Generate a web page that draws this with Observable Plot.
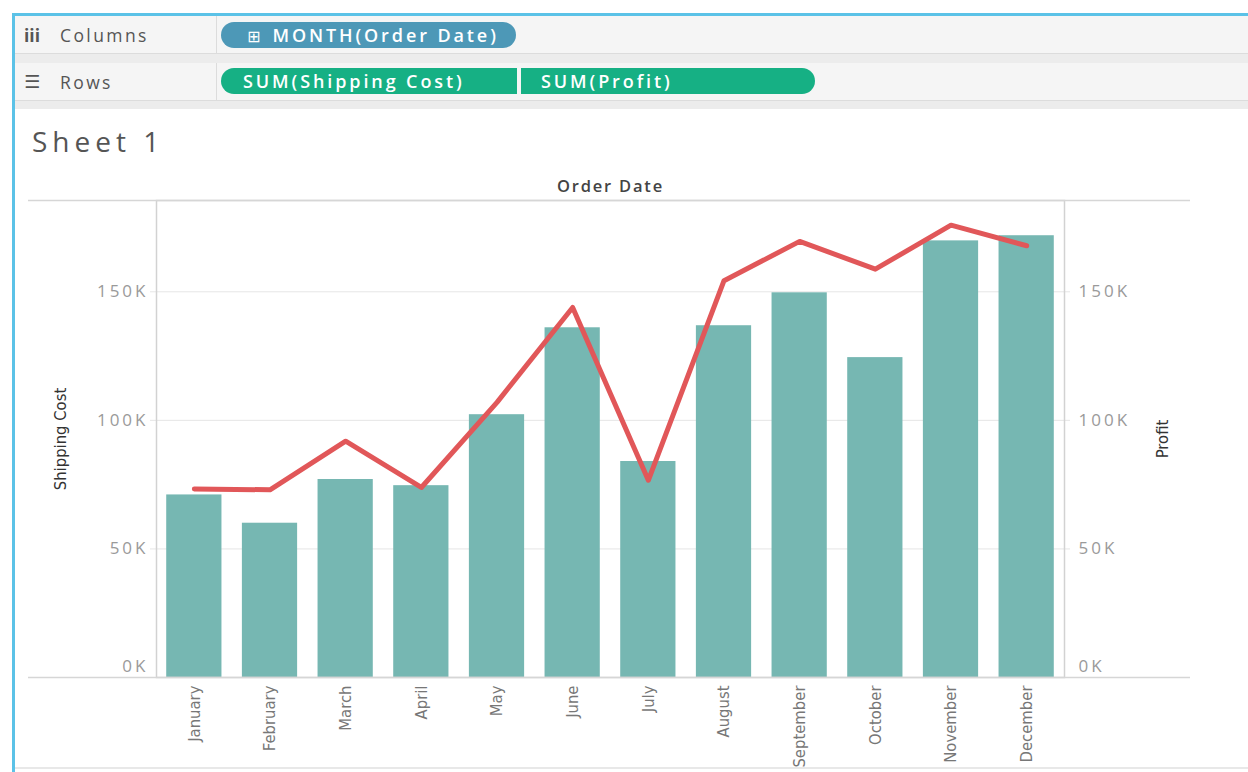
<!DOCTYPE html>
<html>
<head>
<meta charset="utf-8">
<script src="https://cdn.jsdelivr.net/npm/d3@7"></script>
<script src="https://cdn.jsdelivr.net/npm/@observablehq/plot@0.6"></script>
<style>
  html, body { margin:0; padding:0; background:#fff; }
  #page { position:relative; width:1248px; height:772px; overflow:hidden; background:#fff; font-family:"Open Sans", sans-serif; }
  .bluetop { position:absolute; left:12px; top:13px; width:1236px; height:3px; background:#5bc2e7; }
  .blueleft { position:absolute; left:12px; top:13px; width:3px; height:759px; background:#5bc2e7; }
  .shelf { position:absolute; left:15px; width:1233px; background:#f5f5f5; border-bottom:1px solid #dcdcdc; }
  .gap { position:absolute; left:15px; width:1233px; background:#ececec; }
  .shelflabel { position:absolute; left:0; top:0; width:201px; height:100%; border-right:1px solid #dcdcdc; color:#555; font-size:17.5px; letter-spacing:2.4px; display:flex; align-items:center; }
  .shelflabel .ic { display:inline-block; width:36px; padding-left:9px; font-weight:700; color:#555; letter-spacing:0; }
  .pill { position:absolute; height:26px; color:#fff; font-size:18px; font-weight:600; display:flex; align-items:center; letter-spacing:2.9px; white-space:nowrap; }
  #title { position:absolute; left:32px; top:122px; font-size:28px; color:#555; letter-spacing:5px; font-weight:400; }
  #chart { position:absolute; left:0; top:170px; }
  #chart g[aria-label="y-axis tick label"] text { letter-spacing:3px; }
  .bottomline { position:absolute; left:15px; top:767px; width:1233px; height:2px; background:#e8e8e8; }
</style>
</head>
<body>
<div id="page">
  <div class="shelf" style="top:16px;height:37px;">
    <div class="shelflabel"><span class="ic">iii</span>Columns</div>
  </div>
  <div class="gap" style="top:54px;height:9px;"></div>
  <div class="shelf" style="top:63px;height:37px;">
    <div class="shelflabel"><span class="ic" style="font-family:'DejaVu Sans';font-size:18px;font-weight:400;">&#9776;</span>Rows</div>
  </div>
  <div class="gap" style="top:101px;height:8px;"></div>
  <div class="pill" style="left:221px;top:22px;width:295px;background:#4d98b7;border-radius:13px;"><span style="padding-left:26px;"><span style="font-weight:400;letter-spacing:0;margin-right:12px;font-family:'DejaVu Sans';font-size:16px;">&#8862;</span>MONTH(Order Date)</span></div>
  <div class="pill" style="left:221px;top:68px;width:296px;background:#16b084;border-radius:13px 0 0 13px;"><span style="padding-left:22px;">SUM(Shipping Cost)</span></div>
  <div class="pill" style="left:521px;top:68px;width:294px;background:#16b084;border-radius:0 13px 13px 0;"><span style="padding-left:20px;">SUM(Profit)</span></div>
  <div class="bluetop"></div>
  <div class="blueleft"></div>
  <div id="title">Sheet 1</div>
  <div id="chart"></div>
  <div class="bottomline"></div>
</div>
<script>
const months = ["January","February","March","April","May","June","July","August","September","October","November","December"];
const shippingCost = [71000, 60000, 77000, 74600, 102200, 136000, 84000, 136800, 149600, 124400, 169800, 171800];
const profit = [73300, 73000, 91900, 73900, 107000, 143900, 76700, 154300, 169600, 158800, 175900, 167900];
const yTicks = [50000, 100000, 150000];
const yMax = 185500;

const data = months.map((m, i) => ({month: m, ship: shippingCost[i], profit: profit[i]}));
const fmt = d => (d / 1000) + "K";
const tickFont = {fontFamily: "Open Sans, sans-serif", fontSize: 17, fill: "#9a9a9a"};

const chart = Plot.plot({
  width: 1248,
  height: 602,
  marginTop: 30,
  marginBottom: 95,
  marginLeft: 156,
  marginRight: 184,
  style: {background: "transparent", overflow: "visible"},
  x: {domain: months, paddingInner: 0.27, paddingOuter: 0.135, round: false, label: null},
  y: {domain: [0, yMax], label: null},
  marks: [
    Plot.ruleY(yTicks, {stroke: "#e6e6e6", strokeWidth: 1, insetLeft: -6, insetRight: -6}),
    Plot.barY(data, {x: "month", y: "ship", fill: "#76b7b2"}),
    Plot.lineY(data, {x: "month", y: "profit", stroke: "#e15759", strokeWidth: 5, strokeLinejoin: "round", strokeLinecap: "round"}),
    Plot.frame({stroke: "#d2d2d2", strokeWidth: 1.5}),
    Plot.ruleY([0, yMax], {stroke: "#d6d6d6", strokeWidth: 1.5, insetLeft: -128, insetRight: -126}),
    Plot.axisY({anchor: "left", ticks: yTicks, tickFormat: fmt, tickSize: 0, tickPadding: 8, ...tickFont, label: null}),
    Plot.axisY({anchor: "left", ticks: [0], tickFormat: fmt, tickSize: 0, tickPadding: 8, dy: -11, ...tickFont, label: null}),
    Plot.axisY({anchor: "right", ticks: yTicks, tickFormat: fmt, tickSize: 0, tickPadding: 14, ...tickFont, label: null}),
    Plot.axisY({anchor: "right", ticks: [0], tickFormat: fmt, tickSize: 0, tickPadding: 14, dy: -11, ...tickFont, label: null}),
    Plot.axisX({anchor: "bottom", tickRotate: -90, tickSize: 0, tickPadding: 8, fontFamily: "DejaVu Sans Condensed, sans-serif", fontSize: 16.5, fill: "#777", label: null}),
    Plot.text(["Order Date"], {frameAnchor: "top", lineAnchor: "middle", dy: -14, text: d => d, fontFamily: "Open Sans, sans-serif", fontSize: 16.5, fontWeight: 600, fill: "#444"}),
    Plot.text(["Shipping Cost"], {frameAnchor: "left", textAnchor: "middle", dx: -96, rotate: -90, text: d => d, fontFamily: "DejaVu Sans Condensed, sans-serif", fontSize: 16.5, fill: "#333"}),
    Plot.text(["Profit"], {frameAnchor: "right", textAnchor: "middle", dx: 98, rotate: -90, text: d => d, fontFamily: "DejaVu Sans Condensed, sans-serif", fontSize: 16.5, fill: "#333"})
  ]
});
d3.select(chart).selectAll("text").filter(function () { return this.textContent === "Order Date"; }).style("letter-spacing", "1.8px");
document.getElementById("chart").appendChild(chart);
</script>
</body>
</html>
